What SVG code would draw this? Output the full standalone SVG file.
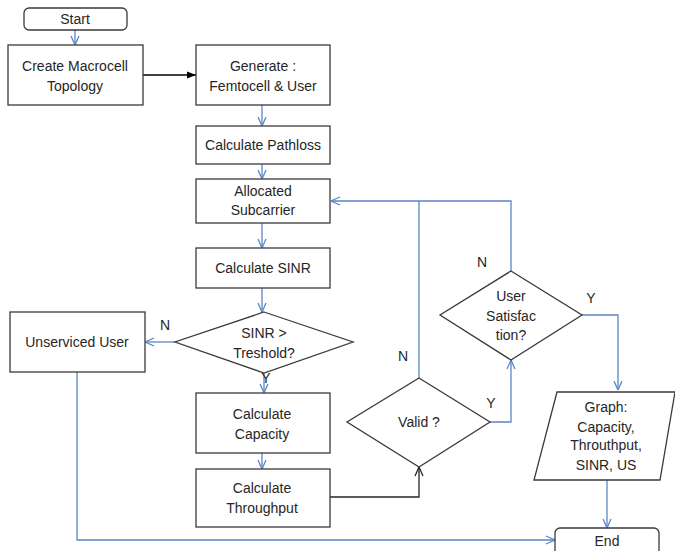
<svg xmlns="http://www.w3.org/2000/svg" width="675" height="551" viewBox="0 0 675 551">
<style>
.box{fill:#fff;stroke:#3a3a3a;stroke-width:1.3}
.t{font-family:"Liberation Sans",Arial,sans-serif;font-size:14px;fill:#262626;text-anchor:middle;dominant-baseline:central}
.c{fill:none;stroke:#5b87c5;stroke-width:1.3}
.k{fill:none;stroke:#262626;stroke-width:1.3}
</style>
<defs>
<marker id="ab" viewBox="0 0 10 10" refX="10" refY="5" markerWidth="10" markerHeight="10" markerUnits="userSpaceOnUse" orient="auto"><path d="M1,1 L10,5 L1,9" fill="none" stroke="#5b87c5" stroke-width="1.3"/></marker>
<marker id="ak" viewBox="0 0 10 10" refX="10" refY="5" markerWidth="10" markerHeight="10" markerUnits="userSpaceOnUse" orient="auto"><path d="M1,1 L10,5 L1,9" fill="none" stroke="#262626" stroke-width="1.3"/></marker>
<marker id="af" viewBox="0 0 10 10" refX="10" refY="5" markerWidth="9" markerHeight="9" markerUnits="userSpaceOnUse" orient="auto"><path d="M0,1 L10,5 L0,9 Z" fill="#000"/></marker>
</defs>
<rect width="675" height="551" fill="#fff"/>
<g id="connectors">
<path class="c" d="M75,30 V45" marker-end="url(#ab)"/>
<path d="M143,75 H196" fill="none" stroke="#000" stroke-width="1.3" marker-end="url(#af)"/>
<path class="c" d="M262,105 V126" marker-end="url(#ab)"/>
<path class="c" d="M262,164 V179" marker-end="url(#ab)"/>
<path class="c" d="M262,223 V248" marker-end="url(#ab)"/>
<path class="c" d="M262,288 V312" marker-end="url(#ab)"/>
<path class="c" d="M175,342 H145" marker-end="url(#ab)"/>
<path class="c" d="M264,373 V393" marker-end="url(#ab)"/>
<path class="c" d="M262,453 V469" marker-end="url(#ab)"/>
<path class="k" d="M330,497 H419 V467" marker-end="url(#ak)"/>
<path class="c" d="M419,378 V201"/>
<path class="c" d="M511,271 V201 H331" marker-end="url(#ab)"/>
<path class="c" d="M490,422 H511 V360" marker-end="url(#ab)"/>
<path class="c" d="M582,315 H618 V390" marker-end="url(#ab)"/>
<path class="c" d="M607,480 V528" marker-end="url(#ab)"/>
<path class="c" d="M77,372 V540 H555" marker-end="url(#ab)"/>
</g>
<g id="start"><rect class="box" x="24" y="8" width="103" height="22" rx="5"/><text class="t" x="75" y="19">Start</text></g>
<g id="macrocell"><rect class="box" x="8" y="45" width="135" height="60"/><text class="t" x="75" y="66">Create Macrocell</text><text class="t" x="75" y="86">Topology</text></g>
<g id="generate"><rect class="box" x="196" y="45" width="134" height="60"/><text class="t" x="263" y="66">Generate :</text><text class="t" x="263" y="86">Femtocell &amp; User</text></g>
<g id="pathloss"><rect class="box" x="196" y="126" width="134" height="38"/><text class="t" x="263" y="145">Calculate Pathloss</text></g>
<g id="subcarrier"><rect class="box" x="196" y="179" width="134" height="44"/><text class="t" x="263" y="191">Allocated</text><text class="t" x="263" y="210">Subcarrier</text></g>
<g id="sinr"><rect class="box" x="196" y="248" width="134" height="40"/><text class="t" x="263" y="268">Calculate SINR</text></g>
<g id="threshold"><polygon class="box" points="264,312 353,342 264,373 175,342"/><text class="t" x="264" y="333">SINR &gt;</text><text class="t" x="264" y="353">Treshold?</text></g>
<g id="unserviced"><rect class="box" x="10" y="312" width="135" height="60"/><text class="t" x="77" y="342">Unserviced User</text></g>
<g id="capacity"><rect class="box" x="196" y="393" width="134" height="60"/><text class="t" x="262" y="414">Calculate</text><text class="t" x="262" y="434">Capacity</text></g>
<g id="throughput"><rect class="box" x="196" y="469" width="134" height="58"/><text class="t" x="262" y="488">Calculate</text><text class="t" x="262" y="508">Throughput</text></g>
<g id="valid"><polygon class="box" points="419,378 490,422 419,467 347,422"/><text class="t" x="419" y="422">Valid ?</text></g>
<g id="satisfaction"><polygon class="box" points="511,271 582,315 511,360 440,315"/><text class="t" x="511" y="296">User</text><text class="t" x="511" y="316">Satisfac</text><text class="t" x="511" y="335">tion?</text></g>
<g id="graph"><polygon class="box" points="557,392 675,392 660,480 534,480"/><text class="t" x="606" y="407">Graph:</text><text class="t" x="606" y="427">Capacity,</text><text class="t" x="606" y="445">Throuthput,</text><text class="t" x="606" y="465">SINR, US</text></g>
<g id="end"><rect class="box" x="555" y="528" width="104" height="30" rx="5"/><text class="t" x="607" y="541">End</text></g>
<g id="labels">
<text class="t" x="165" y="325">N</text>
<text class="t" x="266" y="378">Y</text>
<text class="t" x="403" y="356">N</text>
<text class="t" x="491" y="403">Y</text>
<text class="t" x="482" y="262">N</text>
<text class="t" x="591" y="298">Y</text>
</g>
</svg>
